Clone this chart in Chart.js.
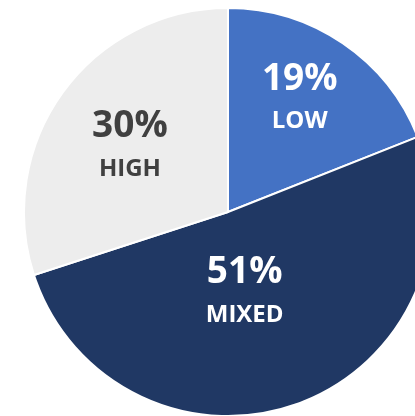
<!DOCTYPE html>
<html>
<head>
<meta charset="utf-8">
<script src="https://cdn.jsdelivr.net/npm/chart.js@4.4.1/dist/chart.umd.min.js"></script>
<style>
  html, body { margin: 0; padding: 0; background: #ffffff; overflow: hidden; }
  body { width: 415px; height: 416px; position: relative; }
  #wrap { position: absolute; left: 23px; top: 7px; width: 410px; height: 410px; }
</style>
</head>
<body>
<div id="wrap"><canvas id="myChart"></canvas></div>
<script>
const labels = ["LOW", "MIXED", "HIGH"];
const values = [19, 51, 30];
const colors = ["#4472c4", "#203864", "#ededed"];
const textColors = ["#ffffff", "#ffffff", "#404040"];

// where each label block sits, as a fraction of the radius and an angle nudge (degrees)
const labelSpots = [
  { r: 0.66, a: -2 },
  { r: 0.40, a: 8 },
  { r: 0.58, a: -2 },
];

const sliceLabels = {
  id: "sliceLabels",
  afterDatasetsDraw(chart) {
    const ctx = chart.ctx;
    const meta = chart.getDatasetMeta(0);
    meta.data.forEach((arc, i) => {
      const spot = labelSpots[i];
      const mid = (arc.startAngle + arc.endAngle) / 2 + (spot.a * Math.PI) / 180;
      const dist = arc.outerRadius * spot.r;
      const x = arc.x + Math.cos(mid) * dist;
      const y = arc.y + Math.sin(mid) * dist;
      ctx.save();
      ctx.fillStyle = textColors[i];
      ctx.textAlign = "center";
      ctx.textBaseline = "middle";
      ctx.font = "bold 37px 'Open Sans'";
      ctx.fillText(values[i] + "%", x, y - 19);
      ctx.font = "bold 24px 'Open Sans'";
      ctx.fillText(labels[i], x, y + 23);
      ctx.restore();
    });
  },
};

const ctx = document.getElementById("myChart").getContext("2d");
const myChart = new Chart(ctx, {
  type: "pie",
  data: {
    labels: labels,
    datasets: [
      {
        data: values,
        backgroundColor: colors,
        borderColor: "#ffffff",
        borderWidth: 2,
      },
    ],
  },
  options: {
    responsive: true,
    maintainAspectRatio: false,
    animation: false,
    layout: { padding: 0 },
    plugins: {
      legend: { display: false },
      tooltip: { enabled: false },
    },
  },
  plugins: [sliceLabels],
});
</script>
</body>
</html>
